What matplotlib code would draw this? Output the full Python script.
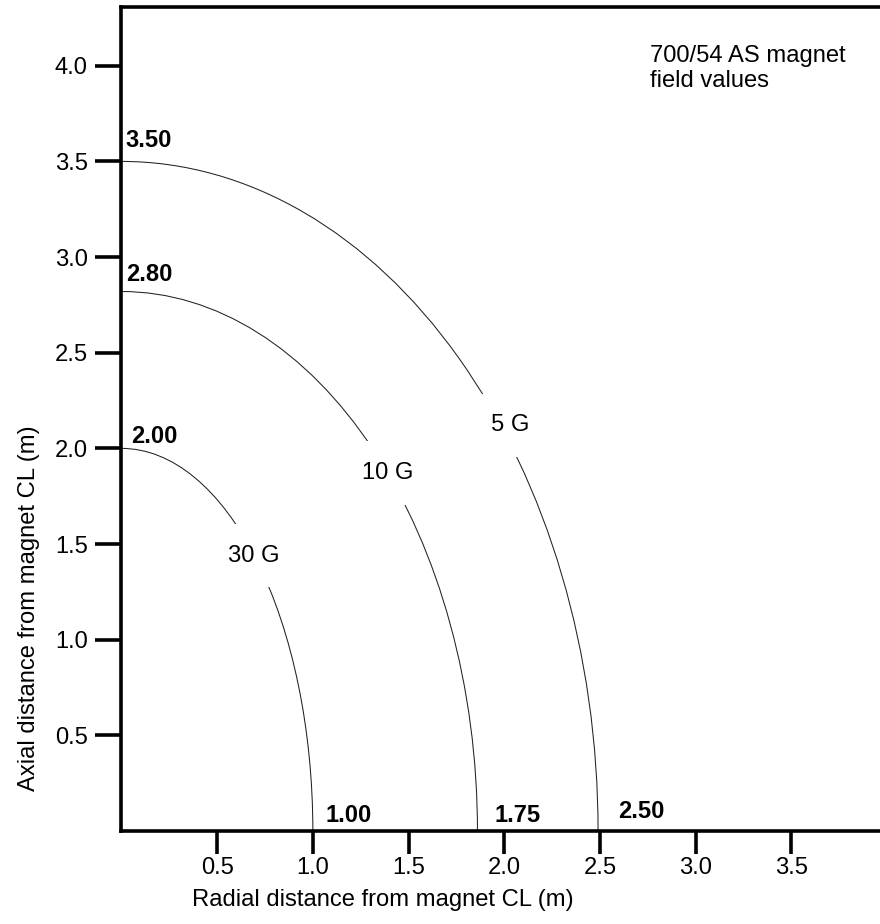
import matplotlib
matplotlib.use("Agg")
import matplotlib.pyplot as plt
from matplotlib.patches import Arc

plt.rcParams['font.family'] = ['Liberation Sans', 'DejaVu Sans']

# ---- data ----
field_labels = ['30 G', '10 G', '5 G']
radial_extent = [1.00, 1.86, 2.49]      # where each contour meets the radial axis (m)
axial_extent = [2.00, 2.82, 3.50]       # where each contour meets the axial axis (m)
radial_value_labels = ['1.00', '1.75', '2.50']
axial_value_labels = ['2.00', '2.80', '3.50']
field_label_pos_x = [0.69, 1.39, 2.03]
field_label_pos_y = [1.44, 1.87, 2.12]
radial_label_pos_x = [1.068, 1.95, 2.594]
radial_label_pos_y = [0.045, 0.049, 0.066]
axial_label_pos_x = [0.053, 0.027, 0.023]
axial_label_pos_y = [2.026, 2.877, 3.577]
x_ticks = [0.5, 1.0, 1.5, 2.0, 2.5, 3.0, 3.5]
y_ticks = [0.5, 1.0, 1.5, 2.0, 2.5, 3.0, 3.5, 4.0]
x_tick_labels = ['0.5', '1.0', '1.5', '2.0', '2.5', '3.0', '3.5']
y_tick_labels = ['0.5', '1.0', '1.5', '2.0', '2.5', '3.0', '3.5', '4.0']
title_lines = ['700/54 AS magnet', 'field values']

FS = 17.1

fig = plt.figure(figsize=(8.8, 9.24), dpi=100)
ax = fig.add_axes([0.138, 0.1006, 0.862, 0.8918])
ax.set_xlim(0, 3.963)
ax.set_ylim(0, 4.307)

for a, b in zip(radial_extent, axial_extent):
    ax.add_patch(Arc((0, 0), 2 * a, 2 * b, theta1=0, theta2=90,
                     color='#222222', lw=0.75, zorder=2))

for lab, x, y in zip(field_labels, field_label_pos_x, field_label_pos_y):
    ax.text(x, y, lab, ha='center', va='center', fontsize=FS, zorder=4,
            bbox=dict(boxstyle='square,pad=0.88', fc='white', ec='none'))

for lab, x, y in zip(radial_value_labels, radial_label_pos_x, radial_label_pos_y):
    ax.text(x, y, lab, ha='left', va='baseline', fontsize=FS, fontweight='bold')
for lab, x, y in zip(axial_value_labels, axial_label_pos_x, axial_label_pos_y):
    ax.text(x, y, lab, ha='left', va='baseline', fontsize=FS, fontweight='bold')

ax.text(2.76, 4.108, '\n'.join(title_lines), ha='left', va='top',
        fontsize=FS, linespacing=1.15)

ax.set_xticks(x_ticks)
ax.set_xticklabels(x_tick_labels)
ax.set_yticks(y_ticks)
ax.set_yticklabels(y_tick_labels)

ax.spines['right'].set_visible(False)
for s in ['left', 'bottom', 'top']:
    ax.spines[s].set_linewidth(2.6)
ax.tick_params(axis='x', direction='out', length=16.5, width=2.6, pad=2,
               labelsize=FS, top=False)
ax.tick_params(axis='y', direction='out', length=18.7, width=2.6, pad=5.5,
               labelsize=FS, right=False)

ax.set_xlabel('Radial distance from magnet CL (m)', fontsize=FS)
ax.set_ylabel('Axial distance from magnet CL (m)', fontsize=FS)
ax.xaxis.set_label_coords(0.345, -0.070)
ax.yaxis.set_label_coords(-0.107, 0.271)

fig.savefig('out.png', dpi=100)
